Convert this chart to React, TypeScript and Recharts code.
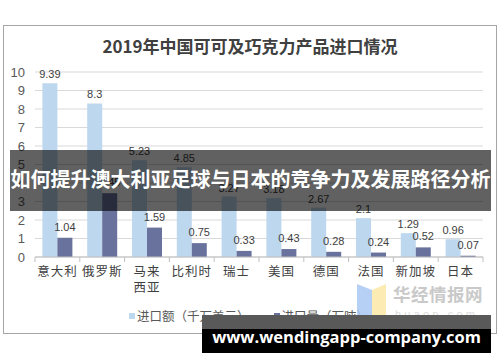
import React from "react";
import { BarChart, Bar, XAxis, YAxis, CartesianGrid, LabelList } from "recharts";

const categories = ["意大利", "俄罗斯", "马来西亚", "比利时", "瑞士", "美国", "德国", "法国", "新加坡", "日本"];
const importValue = [9.39, 8.3, 5.23, 4.85, 3.27, 3.18, 2.67, 2.1, 1.29, 0.96];
const importVolume = [1.04, 3.45, 1.59, 0.75, 0.33, 0.43, 0.28, 0.24, 0.52, 0.07];
const yTicks = [0, 1, 2, 3, 4, 5, 6, 7, 8, 9, 10];

const LIGHT = "#bdd7ee";
const DARK = "#68729c";
const CJK = '"Noto Sans CJK SC", "Noto Sans", sans-serif';
const LATIN = '"Liberation Sans", Arial, sans-serif';

const PLOT_LEFT = 35;
const PLOT_RIGHT = 483;
const BAND = (PLOT_RIGHT - PLOT_LEFT) / categories.length;

const data = categories.map((name, i) => ({
  name,
  value: importValue[i],
  volume: importVolume[i],
}));

function CategoryTick(props: any) {
  const { x, y, payload, index } = props;
  const label: string = payload.value;
  const lines = label.length > 3 ? [label.slice(0, 2), label.slice(2)] : [label];
  const left = x - BAND / 2;
  return (
    <g>
      <line x1={left} y1={y} x2={left} y2={y + 5} stroke="#bfbfbf" />
      {index === categories.length - 1 && (
        <line x1={left + BAND} y1={y} x2={left + BAND} y2={y + 5} stroke="#bfbfbf" />
      )}
      {lines.map((l, i) => (
        <text
          key={i}
          x={x}
          y={y + 19 + i * 16}
          textAnchor="middle"
          fontSize={12.5}
          fontFamily={CJK}
          fill="#404040"
          letterSpacing={1}
        >
          {l}
        </text>
      ))}
    </g>
  );
}

export default function App() {
  return (
    <div style={{ position: "absolute", left: 0, top: 0, width: 500, height: 362, background: "#fff", overflow: "hidden" }}>
      {/* frame */}
      <div
        style={{
          position: "absolute",
          left: 3,
          top: 25,
          width: 492,
          height: 307,
          border: "1px solid #a6a6a6",
        }}
      />
      <div
        style={{
          position: "absolute",
          left: 0,
          top: 33,
          width: 500,
          textAlign: "center",
          fontFamily: CJK,
          fontWeight: 700,
          fontSize: 17,
          color: "#404040",
          lineHeight: "26px",
        }}
      >
        2019年中国可可及巧克力产品进口情况
      </div>

      <div style={{ position: "absolute", left: 0, top: 0 }}>
        <BarChart
          width={500}
          height={362}
          data={data}
          margin={{ top: 72, right: 500 - PLOT_RIGHT, bottom: 65, left: 0 }}
          barCategoryGap="16.5%"
          barGap={0}
        >
          <CartesianGrid vertical={false} stroke="#d9d9d9" />
          <YAxis
            width={PLOT_LEFT}
            domain={[0, 10]}
            ticks={yTicks}
            interval={0}
            axisLine={false}
            tickLine={false}
            tickMargin={4}
            tick={{ fontSize: 13, fontFamily: LATIN, fill: "#595959" }}
          />
          <XAxis
            dataKey="name"
            height={40}
            interval={0}
            tickLine={false}
            tickSize={0}
            tickMargin={0}
            axisLine={{ stroke: "#bfbfbf" }}
            tick={<CategoryTick />}
          />
          <Bar dataKey="value" fill={LIGHT} isAnimationActive={false}>
            <LabelList dataKey="value" position="top" offset={5} fontSize={11} fontFamily={LATIN} fill="#404040" />
          </Bar>
          <Bar dataKey="volume" fill={DARK} isAnimationActive={false}>
            <LabelList dataKey="volume" position="top" offset={7} fontSize={11} fontFamily={LATIN} fill="#404040" />
          </Bar>
        </BarChart>
      </div>

      {/* legend */}
      <div
        style={{
          position: "absolute",
          left: 129,
          top: 306,
          display: "flex",
          alignItems: "center",
          fontFamily: CJK,
          fontSize: 12.5,
          color: "#595959",
          whiteSpace: "nowrap",
        }}
      >
        <span style={{ width: 6, height: 6, background: LIGHT, marginRight: 2 }} />
        <span>进口额（千万美元）</span>
        <span style={{ width: 6, height: 6, background: DARK, marginLeft: 24, marginRight: 2 }} />
        <span>进口量（万吨）</span>
      </div>

      {/* watermark */}
      <svg style={{ position: "absolute", left: 0, top: 0 }} width={500} height={362}>
        <polygon points="357,284 372,290 372,334 357,328" fill="#a9c8f3" opacity={0.85} />
        <polygon points="372,290 386,284 386,328 372,334" fill="#fbe8a4" opacity={0.85} />
        <text x={393} y={301} fontFamily={CJK} fontWeight={700} fontSize={17.5} fill="#c9c9c9" letterSpacing={0.5}>
          华经情报网
        </text>
        <text x={395} y={318} fontFamily={LATIN} fontSize={11} fill="#dcdcdc" letterSpacing={3.2}>
          huaon.com
        </text>
      </svg>

      {/* overlay banner */}
      <div
        style={{
          position: "absolute",
          left: 10,
          top: 150,
          width: 481,
          height: 61,
          background: "rgba(0,0,0,0.62)",
          display: "flex",
          alignItems: "center",
          justifyContent: "center",
          color: "#fff",
          fontFamily: CJK,
          fontWeight: 700,
          fontSize: 20,
          whiteSpace: "nowrap",
          lineHeight: "22px",
        }}
      >
        <span style={{ marginTop: -4 }}>如何提升澳大利亚足球与日本的竞争力及发展路径分析</span>
      </div>

      {/* site banner */}
      <div style={{ position: "absolute", left: 202, top: 315, width: 289, height: 14, background: "#595959" }} />
      <div style={{ position: "absolute", left: 202, top: 329, width: 289, height: 24, background: "#000" }} />
      <div
        style={{
          position: "absolute",
          left: 202,
          top: 326,
          width: 289,
          textAlign: "center",
          color: "#fff",
          fontFamily: '"Open Sans", sans-serif',
          fontWeight: 700,
          fontSize: 16.5,
          lineHeight: "22px",
        }}
      >
        www.wendingapp-company.com
      </div>
    </div>
  );
}
